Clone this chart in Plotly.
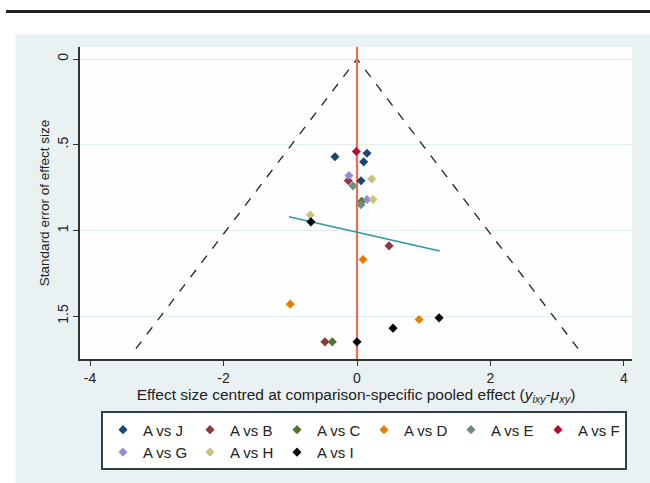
import plotly.graph_objects as go

series_names = ["A vs J", "A vs B", "A vs C", "A vs D", "A vs E", "A vs F", "A vs G", "A vs H", "A vs I"]
series_colors = ["#1a476f", "#90353b", "#55752f", "#e37e00", "#6e8e84", "#c10534", "#938dd2", "#cac27e", "#000000"]

# effect centred (x) and standard error (y) for each comparison
x_J = [-0.33, 0.15, 0.10, 0.06]
y_J = [0.57, 0.55, 0.60, 0.71]
x_B = [-0.13, 0.48, -0.48]
y_B = [0.71, 1.09, 1.65]
x_C = [0.07, -0.37]
y_C = [0.83, 1.65]
x_D = [0.09, -1.00, 0.93]
y_D = [1.17, 1.43, 1.52]
x_E = [-0.06, 0.06]
y_E = [0.74, 0.85]
x_F = [-0.01]
y_F = [0.54]
x_G = [-0.12, 0.15]
y_G = [0.68, 0.82]
x_H = [0.22, 0.24, -0.70]
y_H = [0.70, 0.82, 0.91]
x_I = [-0.69, 1.23, 0.54, 0.00]
y_I = [0.95, 1.51, 1.57, 1.65]

xs = [x_J, x_B, x_C, x_D, x_E, x_F, x_G, x_H, x_I]
ys = [y_J, y_B, y_C, y_D, y_E, y_F, y_G, y_H, y_I]

# funnel (pseudo 95% limits) and regression line
funnel_se = [0.0, 1.69]
z = 1.96
reg_x = [-1.02, 1.24]
reg_y = [0.92, 1.12]

xticks = [-4, -2, 0, 2, 4]
xticklabels = ["-4", "-2", "0", "2", "4"]
yticks = [0, 0.5, 1, 1.5]
yticklabels = ["0", ".5", "1", "1.5"]

fig = go.Figure()

# funnel lines
fig.add_trace(go.Scatter(x=[-z * funnel_se[1], 0, z * funnel_se[1]],
                         y=[funnel_se[1], funnel_se[0], funnel_se[1]],
                         mode="lines", line=dict(color="#222", width=1.3, dash="dash"),
                         showlegend=False, hoverinfo="skip"))
# vertical line at 0
fig.add_trace(go.Scatter(x=[0, 0], y=[-0.07, 1.75], mode="lines",
                         line=dict(color="#f26a55", width=2.2), showlegend=False, hoverinfo="skip"))
# regression line
fig.add_trace(go.Scatter(x=reg_x, y=reg_y, mode="lines",
                         line=dict(color="#2a9aa8", width=1.6), showlegend=False, hoverinfo="skip"))

for name, col, xv, yv in zip(series_names, series_colors, xs, ys):
    fig.add_trace(go.Scatter(x=xv, y=yv, mode="markers", name=name,
                             marker=dict(symbol="diamond", size=7, color=col)))

font_family = "Liberation Sans, Arial, sans-serif"

fig.update_layout(
    width=650, height=483,
    margin=dict(l=80, r=18, t=47, b=120),
    paper_bgcolor="#e9f1f3",
    plot_bgcolor="#fefefe",
    font=dict(family=font_family, size=14, color="#222"),
    showlegend=True,
    legend=dict(orientation="h", x=0.038, y=-0.168, xanchor="left", yanchor="top",
                bgcolor="white", bordercolor="#2f3f45", borderwidth=2,
                font=dict(size=15, color="#222"), entrywidth=42, entrywidthmode="pixels",
                itemsizing="trace", tracegroupgap=0),
    xaxis=dict(range=[-4.15, 4.12], tickvals=xticks, ticktext=xticklabels, ticks="outside", ticklen=5,
               tickcolor="#333", showline=True, linecolor="#333", linewidth=1.5,
               showgrid=False, zeroline=False, tickfont=dict(size=14),
               title=dict(text="Effect size centred at comparison-specific pooled effect (<i>y<sub>ixy</sub></i>-<i>μ<sub>xy</sub></i>)",
                          font=dict(size=15.5), standoff=2)),
    yaxis=dict(range=[1.75, -0.07], tickvals=yticks, ticktext=yticklabels, ticks="outside",
               ticklen=5, tickcolor="#333", showline=True, linecolor="#333", linewidth=1.5,
               showgrid=True, gridcolor="#e3eef2", gridwidth=1, zeroline=False,
               tickangle=-90, tickfont=dict(size=14),
               title=dict(text="Standard error of effect size", font=dict(size=13.5), standoff=2)),
    shapes=[
        dict(type="rect", xref="paper", yref="paper", x0=-0.2, x1=1.1, y0=1.04, y1=1.3,
             fillcolor="white", line=dict(width=0), layer="below"),
        dict(type="rect", xref="paper", yref="paper", x0=-0.2, x1=-0.117, y0=-0.5, y1=1.1,
             fillcolor="white", line=dict(width=0), layer="below"),
        dict(type="line", xref="paper", yref="paper", x0=-0.134, x1=1.1, y0=1.114, y1=1.114,
             line=dict(color="#222", width=3)),
    ],
)

fig.write_html("out.html")
